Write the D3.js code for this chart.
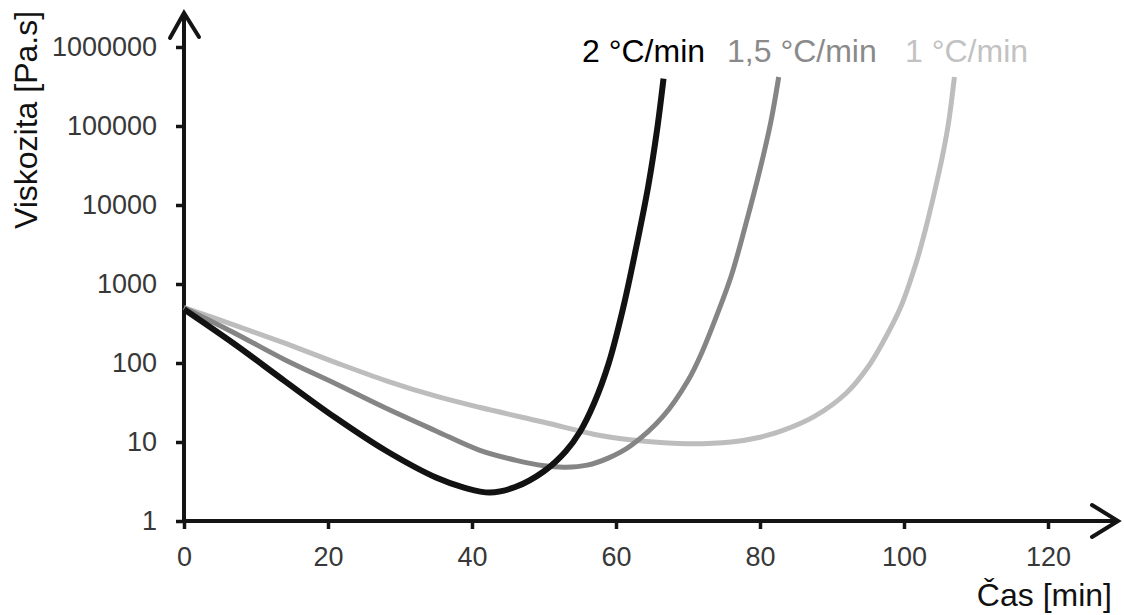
<!DOCTYPE html>
<html>
<head>
<meta charset="utf-8">
<script src="https://cdn.jsdelivr.net/npm/d3@7"></script>
<style>
  html, body { margin: 0; padding: 0; background: #fff; }
  svg { display: block; font-family: "Liberation Sans", Arial, sans-serif; }
</style>
</head>
<body>
<svg id="chart" width="1124" height="615"></svg>
<script>
// ---- data (time in min, viscosity in Pa.s) ----
const seriesNames = ["2 °C/min", "1,5 °C/min", "1 °C/min"];

const time2 = [0, 7, 14, 21, 28, 35, 39, 42.5, 46, 50, 53, 55, 57, 59, 61, 63, 64.5, 65.7, 66.6];
const visc2 = [479, 174, 59, 20.4, 7.8, 3.55, 2.63, 2.29, 2.69, 4.27, 7.6, 13.5, 31.6, 100, 500, 3550, 17800, 89000, 398000];

const time15 = [0, 7, 14, 21, 28, 35, 41, 46, 50, 53, 56, 59, 62, 66.5, 70, 72, 74, 76, 78, 80, 81.5, 82.6];
const visc15 = [501, 240, 110, 55, 26.9, 13.8, 7.9, 5.9, 5.0, 4.8, 5.1, 6.3, 8.9, 20.9, 60, 141, 400, 1260, 5600, 28200, 112000, 417000];

const time1 = [0, 7, 14, 21, 28, 35, 41, 50, 58, 64, 70, 76, 80, 83, 87.5, 92, 95, 97, 99.5, 101.8, 103, 104.2, 105.3, 106.2, 107];
const visc1 = [501, 302, 178, 102, 60, 38, 27.5, 17.8, 12, 10.2, 9.5, 10, 11.5, 13.8, 20.9, 41.7, 89, 178, 500, 2000, 5000, 14100, 39800, 112000, 417000];

const xTicks = [0, 20, 40, 60, 80, 100, 120];
const yTicks = [1, 10, 100, 1000, 10000, 100000, 1000000];
const xTitle = "Čas [min]";
const yTitle = "Viskozita [Pa.s]";

// ---- drawing ----
const svg = d3.select("#chart");
const x = d3.scaleLinear().domain([0, 120]).range([184, 1048]);
const y = d3.scaleLog().domain([1, 1000000]).range([521, 47]);

const axisColor = "#141414";
const tickTextColor = "#383838";

// axes (ticks + labels)
const gx = svg.append("g").attr("transform", `translate(0,${y(1)})`)
  .call(d3.axisBottom(x).tickValues(xTicks).tickFormat(d3.format("d")).tickSize(8).tickPadding(18));
const gy = svg.append("g").attr("transform", `translate(${x(0)},0)`)
  .call(d3.axisLeft(y).tickValues(yTicks).tickFormat(d3.format("d")).tickSize(8).tickPadding(19));

[gx, gy].forEach(g => {
  g.select(".domain").remove();
  g.selectAll(".tick line").attr("stroke", axisColor).attr("stroke-width", 3.5);
  g.selectAll(".tick text").attr("fill", tickTextColor)
    .style("font-size", "27px").style("font-family", "'Liberation Sans', Arial, sans-serif");
});

// axis lines with open arrow heads
const x0 = x(0), y0 = y(1);
svg.append("line").attr("x1", x0).attr("y1", y0 + 2).attr("x2", x0).attr("y2", 14)
  .attr("stroke", axisColor).attr("stroke-width", 4);
svg.append("path").attr("d", `M${x0 - 14},38 L${x0},13 L${x0 + 15},37`)
  .attr("fill", "none").attr("stroke", axisColor).attr("stroke-width", 4)
  .attr("stroke-linejoin", "miter").attr("stroke-linecap", "round");
svg.append("line").attr("x1", x0 - 2).attr("y1", y0).attr("x2", 1116).attr("y2", y0)
  .attr("stroke", axisColor).attr("stroke-width", 4);
svg.append("path").attr("d", `M1092,${y0 - 16} L1118,${y0} L1092,${y0 + 16}`)
  .attr("fill", "none").attr("stroke", axisColor).attr("stroke-width", 4)
  .attr("stroke-linejoin", "miter").attr("stroke-linecap", "round");

// curves
const line = d3.line()
  .x(d => x(d[0]))
  .y(d => y(d[1]))
  .curve(d3.curveCatmullRom.alpha(0.5));

const curves = [
  { t: time1, v: visc1, color: "#bdbdbd", w: 5 },
  { t: time15, v: visc15, color: "#858585", w: 5 },
  { t: time2, v: visc2, color: "#121212", w: 6 }
];
curves.forEach(c => {
  svg.append("path")
    .datum(c.t.map((t, i) => [t, c.v[i]]))
    .attr("d", line)
    .attr("fill", "none")
    .attr("stroke", c.color)
    .attr("stroke-width", c.w)
    .attr("stroke-linecap", "butt");
});

// series labels
const labelColors = ["#000000", "#8a8a8a", "#c2c2c2"];
const labelX = [582, 727, 905];
seriesNames.forEach((name, i) => {
  svg.append("text")
    .attr("x", labelX[i]).attr("y", 62)
    .attr("fill", labelColors[i])
    .style("font-size", "32px")
    .text(name);
});

// axis titles
svg.append("text")
  .attr("x", 1112).attr("y", 606)
  .attr("text-anchor", "end")
  .attr("fill", "#111")
  .style("font-size", "32px")
  .text(xTitle);

svg.append("text")
  .attr("transform", "translate(37,120) rotate(-90)")
  .attr("text-anchor", "middle")
  .attr("fill", "#111")
  .style("font-size", "32px")
  .text(yTitle);
</script>
</body>
</html>
